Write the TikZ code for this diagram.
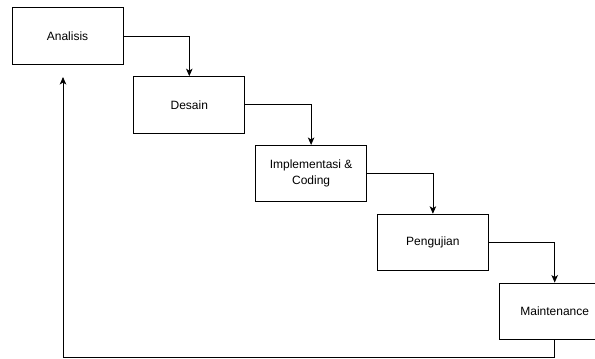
\documentclass[tikz,border=0pt]{standalone}
\usepackage{fontspec}
\setmainfont{Liberation Sans}
\usetikzlibrary{arrows.meta,positioning}

\begin{document}
\begin{tikzpicture}[
    x=1pt, y=1pt,
    node distance=11.5pt and 10pt,
    phase/.style={rectangle, draw, line width=0.8pt, fill=white, minimum width=111pt, minimum height=56.5pt, align=center, font=\fontsize{12}{16}\selectfont},
    arrow/.style={->, >={Stealth[length=7.5pt,width=6.5pt,inset=2pt]}, line width=0.8pt}
]
    \useasboundingbox (0,0) rectangle (595,-359);

    % Phases, each one step lower and to the right
    \node[phase] (analisis) at (67.5,-36) {Analisis};
    \node[phase, below right=of analisis] (desain) {Desain};
    \node[phase, below right=of desain] (implementasi) {Implementasi \&\\Coding};
    \node[phase, below right=of implementasi] (pengujian) {Pengujian};
    \node[phase, below right=of pengujian] (maintenance) {Maintenance};

    % Feedback line back to the start
    \coordinate (loop) at (63,-357);
    \coordinate (back) at (63,-77);

    % Connections
    \draw[arrow] (analisis.east) -| (desain.north);
    \draw[arrow] (desain.east) -| (implementasi.north);
    \draw[arrow] (implementasi.east) -| (pengujian.north);
    \draw[arrow] (pengujian.east) -| (maintenance.north);
    \draw[arrow] (maintenance.south) |- (loop) -- (back);
\end{tikzpicture}
\end{document}
